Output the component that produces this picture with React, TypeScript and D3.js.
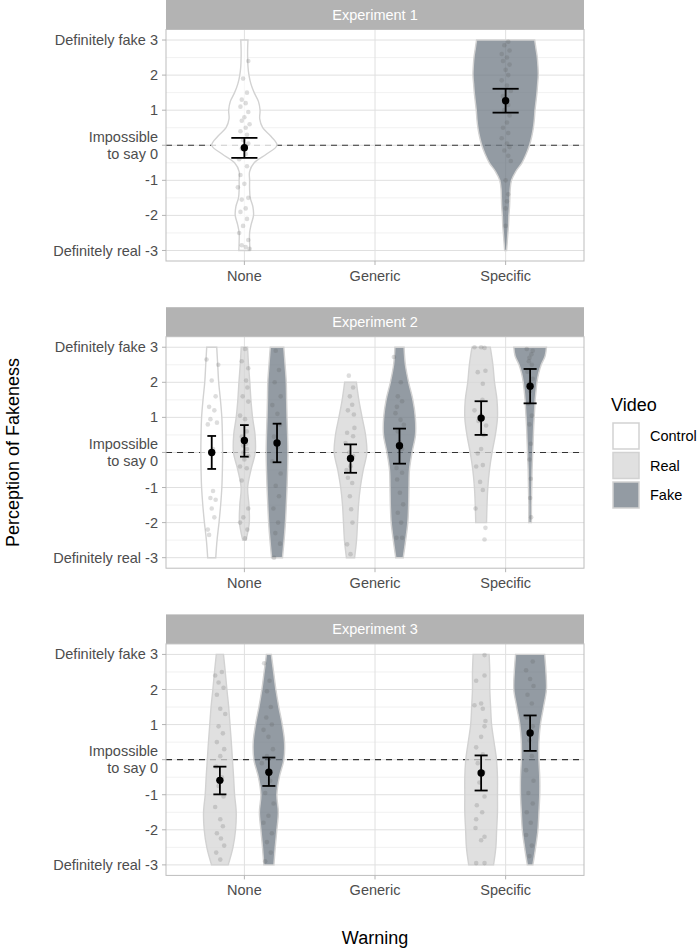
import React from "react";
import * as d3 from "d3";

const experiments = ["Experiment 1", "Experiment 2", "Experiment 3"];
const warnings = ["None", "Generic", "Specific"];
const videos = ["Control", "Real", "Fake"];
const yTicks = [-3, -2, -1, 0, 1, 2, 3];
const yTickLabels = ["Definitely real -3", "-2", "-1", "Impossible\nto say 0", "1", "2", "Definitely fake 3"];

// violin outlines: relative half-width, sampled evenly from lo to hi
const e1NoneControlDens = [0.17, 0.16, 0.16, 0.21, 0.28, 0.26, 0.18, 0.16, 0.16, 0.16, 0.3, 0.68, 1.0, 0.82, 0.56, 0.47, 0.48, 0.43, 0.3, 0.2, 0.14, 0.11, 0.1, 0.1, 0.11];
const e1SpecificFakeDens = [0.03, 0.05, 0.07, 0.09, 0.1, 0.12, 0.13, 0.14, 0.18, 0.31, 0.5, 0.63, 0.73, 0.8, 0.85, 0.88, 0.9, 0.93, 0.96, 0.98, 1.0, 0.99, 0.97, 0.93, 0.89];
const e2NoneControlDens = [0.37, 0.49, 0.67, 0.82, 0.93, 0.98, 1.0, 0.98, 0.93, 0.8, 0.64, 0.55, 0.46];
const e2NoneRealDens = [0.15, 0.45, 0.42, 0.3, 0.6, 1.0, 0.98, 0.75, 0.6, 0.5, 0.38, 0.29];
const e2NoneFakeDens = [0.5, 0.65, 0.77, 0.85, 0.92, 0.97, 1.0, 0.97, 0.92, 0.88, 0.85, 0.74, 0.62];
const e2GenericRealDens = [0.25, 0.37, 0.43, 0.49, 0.6, 0.78, 1.0, 0.92, 0.71, 0.51, 0.36];
const e2GenericFakeDens = [0.23, 0.38, 0.51, 0.56, 0.58, 0.61, 0.77, 0.98, 0.97, 0.82, 0.56, 0.36, 0.28];
const e2SpecificRealDens = [0.33, 0.36, 0.41, 0.51, 0.67, 0.87, 1.0, 0.97, 0.82, 0.72, 0.56];
const e2SpecificFakeDens = [0.08, 0.08, 0.08, 0.09, 0.1, 0.11, 0.12, 0.14, 0.16, 0.18, 0.2, 0.22, 0.25, 0.28, 0.31, 0.36, 0.42, 0.52, 0.68, 0.92, 1.0];
const e3NoneRealDens = [0.51, 0.8, 0.96, 1.0, 0.9, 0.84, 0.77, 0.7, 0.62, 0.54, 0.43, 0.33, 0.22];
const e3NoneFakeDens = [0.31, 0.39, 0.49, 0.58, 0.49, 0.64, 0.92, 0.96, 0.82, 0.61, 0.43, 0.29, 0.15];
const e3SpecificRealDens = [0.76, 0.9, 0.95, 1.0, 1.0, 1.0, 0.94, 0.79, 0.64, 0.58, 0.53, 0.53, 0.49];
const e3SpecificFakeDens = [0.17, 0.34, 0.48, 0.54, 0.59, 0.59, 0.54, 0.54, 0.63, 0.82, 1.0, 0.97, 0.89];

// individual ratings as [jitter in category steps, rating]
const e1NoneControlPts = [[0.03, 2.4], [-0.01, 1.9], [0.02, 1.5], [-0.02, 1.3], [0.01, 1.2], [-0.03, 1.1], [0.03, 0.95], [0.0, 0.8], [-0.02, 0.7], [0.04, 0.6], [0.01, 0.5], [-0.03, 0.4], [0.02, 0.3], [-0.01, 0.15], [0.03, 0.05], [-0.02, -0.1], [0.01, -0.25], [-0.04, -0.4], [0.02, -0.6], [-0.03, -0.85], [0.0, -1.1], [-0.05, -1.2], [0.03, -1.5], [-0.02, -1.55], [0.01, -1.8], [-0.03, -1.9], [0.02, -2.1], [-0.01, -2.3], [-0.04, -2.5], [0.03, -2.7], [0.01, -2.9], [0.04, -2.95], [-0.02, -2.85]];
const e1SpecificFakePts = [[0.02, 2.95], [-0.01, 2.85], [0.03, 2.7], [-0.03, 2.6], [0.01, 2.5], [-0.02, 2.4], [0.03, 2.3], [0.0, 2.15], [0.02, 2.0], [-0.03, 1.85], [0.01, 1.7], [0.04, 1.55], [-0.02, 1.4], [0.02, 1.15], [-0.01, 1.0], [0.03, 0.85], [0.01, 0.65], [-0.02, 0.5], [0.02, 0.35], [-0.03, 0.2], [0.01, 0.05], [0.03, -0.05], [-0.01, -0.15], [0.02, -0.3], [0.04, -0.45], [0.0, -1.0], [0.02, -1.4], [0.01, -1.6], [0.0, -1.8], [0.0, -2.3]];
const e2NoneControlPts = [[-0.04, 2.65], [0.05, 2.5], [0.0, 2.05], [0.03, 1.6], [-0.02, 1.3], [0.02, 1.2], [-0.01, 0.95], [0.04, 0.85], [-0.03, 0.8], [0.01, 0.1], [0.0, -0.05], [0.01, -1.1], [-0.01, -1.3], [0.03, -1.35], [0.0, -1.6], [0.02, -1.85], [-0.03, -2.2], [-0.02, -2.35]];
const e2NoneRealPts = [[0.005, 2.95], [-0.02, 2.6], [0.03, 2.4], [0.013, 2.05], [0.023, 1.85], [-0.013, 1.6], [0.03, 1.45], [-0.033, 1.05], [0.005, 0.95], [0.018, 0.6], [-0.02, 0.45], [0.013, 0.25], [-0.01, 0.2], [0.02, 0.1], [-0.008, 0.0], [0.0, -0.2], [0.03, -0.1], [-0.033, -0.4], [0.018, -0.45], [-0.02, -0.8], [0.03, -1.6], [-0.008, -1.85], [-0.033, -2.0], [0.023, -2.2], [0.005, -2.45]];
const e2NoneFakePts = [[-0.01, 2.9], [0.015, 2.35], [-0.018, 2.0], [0.028, 1.6], [-0.036, 1.35], [0.003, 1.1], [0.023, 0.8], [-0.023, 0.45], [0.003, 0.15], [-0.036, -0.25], [0.028, -0.6], [-0.01, -0.95], [0.015, -1.25], [-0.028, -1.6], [0.008, -2.0], [-0.013, -2.3], [0.023, -2.6], [-0.023, -3.0]];
const e2GenericRealPts = [[-0.013, 2.19], [0.02, 1.85], [-0.005, 1.6], [0.013, 1.36], [-0.02, 1.2], [0.026, 1.08], [0.03, 0.7], [-0.026, 0.56], [0.02, 0.46], [-0.038, 0.27], [-0.01, 0.0], [0.02, -0.1], [0.0, -0.39], [-0.03, -0.5], [-0.02, -0.72], [0.013, -0.87], [-0.005, -1.25], [0.005, -1.62], [0.015, -2.0], [-0.026, -2.62], [0.0, -2.9]];
const e2GenericFakePts = [[-0.043, 2.72], [0.01, 2.0], [-0.013, 1.6], [0.02, 1.46], [-0.02, 1.3], [-0.031, 1.12], [0.008, 0.93], [0.033, 0.79], [-0.013, 0.6], [0.0, 0.3], [0.02, 0.1], [-0.023, -0.44], [0.02, -0.58], [-0.018, -0.77], [0.003, -1.15], [0.028, -1.48], [-0.013, -1.72], [0.013, -2.0], [-0.023, -2.43], [0.02, -2.43]];
const e2SpecificRealPts = [[-0.051, 3.0], [0.0, 3.0], [0.026, 2.98], [-0.026, 2.29], [0.033, 2.33], [0.013, 1.96], [0.01, 1.5], [-0.051, 1.2], [0.0, 1.06], [-0.02, 0.9], [0.038, 0.77], [0.02, 0.5], [0.0, 0.1], [-0.026, -0.03], [0.013, -0.36], [-0.038, -0.4], [-0.008, -0.84], [0.013, -1.07], [-0.043, -1.6], [0.033, -2.15], [0.026, -2.48]];
const e2SpecificFakePts = [[-0.026, 2.95], [0.02, 2.9], [0.01, 2.8], [-0.005, 2.7], [-0.01, 2.6], [0.013, 2.5], [-0.02, 2.3], [0.02, 2.1], [0.0, 2.0], [0.0, 1.75], [-0.013, 1.4], [0.013, 1.05], [-0.005, 0.8], [0.005, 0.25], [-0.005, -0.2], [0.005, -0.75], [0.0, -1.3], [0.008, -1.85]];
const e3NoneRealPts = [[-0.036, 2.4], [0.015, 2.5], [-0.01, 2.2], [0.028, 2.05], [-0.023, 1.85], [0.003, 1.45], [0.041, 1.3], [-0.01, 0.95], [0.023, 0.75], [-0.023, 0.5], [0.033, 0.3], [0.003, 0.1], [-0.028, -0.2], [0.015, -0.5], [-0.01, -0.75], [0.028, -1.05], [-0.036, -1.35], [0.003, -1.7], [0.023, -1.9], [-0.023, -2.1], [0.008, -2.25], [0.033, -2.45], [-0.028, -2.65], [0.003, -2.85]];
const e3NoneFakePts = [[-0.036, 2.75], [0.005, 2.25], [-0.015, 1.95], [0.015, 1.5], [-0.02, 1.2], [0.023, 1.0], [-0.041, 0.85], [-0.003, 0.65], [0.031, 0.3], [-0.015, 0.1], [-0.054, -0.1], [0.01, -0.6], [-0.028, -0.95], [0.036, -1.25], [-0.003, -1.6], [-0.041, -1.8], [0.023, -2.1], [-0.015, -2.35], [0.015, -2.65], [-0.028, -2.9]];
const e3SpecificRealPts = [[0.026, 2.98], [-0.038, 2.25], [0.026, 2.4], [-0.051, 1.55], [0.013, 1.45], [0.0, 1.6], [0.033, 1.1], [0.026, 0.95], [0.0, 0.65], [-0.038, 0.35], [0.013, 0.15], [-0.026, -0.1], [0.018, -0.35], [-0.013, -0.65], [0.026, -1.05], [-0.033, -1.3], [0.008, -1.5], [-0.038, -1.7], [-0.043, -1.95], [0.026, -2.2], [0.0, -2.3], [-0.038, -2.95], [0.026, -2.95]];
const e3SpecificFakePts = [[0.02, 2.8], [-0.031, 2.55], [0.0, 2.3], [0.026, 2.1], [-0.02, 1.85], [0.013, 1.6], [-0.026, 1.2], [0.02, 0.95], [-0.005, 0.55], [0.013, 0.1], [-0.031, -0.3], [0.026, -0.6], [-0.013, -0.95], [0.02, -1.25], [-0.026, -1.5], [0.005, -1.8], [-0.031, -2.15], [0.013, -2.45], [-0.005, -2.75]];

// mean with 95% interval: [mean, lower, upper]
const e1NoneControlStat = [-0.07, -0.36, 0.21];
const e1SpecificFakeStat = [1.27, 0.93, 1.61];
const e2NoneControlStat = [0.0, -0.47, 0.47];
const e2NoneRealStat = [0.34, -0.12, 0.78];
const e2NoneFakeStat = [0.27, -0.28, 0.82];
const e2GenericRealStat = [-0.17, -0.58, 0.23];
const e2GenericFakeStat = [0.19, -0.32, 0.68];
const e2SpecificRealStat = [0.98, 0.5, 1.46];
const e2SpecificFakeStat = [1.89, 1.4, 2.38];
const e3NoneRealStat = [-0.59, -0.99, -0.2];
const e3NoneFakeStat = [-0.36, -0.75, 0.06];
const e3SpecificRealStat = [-0.38, -0.88, 0.12];
const e3SpecificFakeStat = [0.76, 0.25, 1.26];

type Group = {
  exp: string; warning: string; video: string;
  lo: number; hi: number; dens: number[]; pts: number[][]; stat: number[];
};

const groups: Group[] = [
  { exp: "Experiment 1", warning: "None", video: "Control", lo: -3, hi: 3, dens: e1NoneControlDens, pts: e1NoneControlPts, stat: e1NoneControlStat },
  { exp: "Experiment 1", warning: "Specific", video: "Fake", lo: -3, hi: 3, dens: e1SpecificFakeDens, pts: e1SpecificFakePts, stat: e1SpecificFakeStat },
  { exp: "Experiment 2", warning: "None", video: "Control", lo: -3, hi: 3, dens: e2NoneControlDens, pts: e2NoneControlPts, stat: e2NoneControlStat },
  { exp: "Experiment 2", warning: "None", video: "Real", lo: -2.5, hi: 3, dens: e2NoneRealDens, pts: e2NoneRealPts, stat: e2NoneRealStat },
  { exp: "Experiment 2", warning: "None", video: "Fake", lo: -3, hi: 3, dens: e2NoneFakeDens, pts: e2NoneFakePts, stat: e2NoneFakeStat },
  { exp: "Experiment 2", warning: "Generic", video: "Real", lo: -3, hi: 2, dens: e2GenericRealDens, pts: e2GenericRealPts, stat: e2GenericRealStat },
  { exp: "Experiment 2", warning: "Generic", video: "Fake", lo: -3, hi: 3, dens: e2GenericFakeDens, pts: e2GenericFakePts, stat: e2GenericFakeStat },
  { exp: "Experiment 2", warning: "Specific", video: "Real", lo: -2, hi: 3, dens: e2SpecificRealDens, pts: e2SpecificRealPts, stat: e2SpecificRealStat },
  { exp: "Experiment 2", warning: "Specific", video: "Fake", lo: -2, hi: 3, dens: e2SpecificFakeDens, pts: e2SpecificFakePts, stat: e2SpecificFakeStat },
  { exp: "Experiment 3", warning: "None", video: "Real", lo: -3, hi: 3, dens: e3NoneRealDens, pts: e3NoneRealPts, stat: e3NoneRealStat },
  { exp: "Experiment 3", warning: "None", video: "Fake", lo: -3, hi: 3, dens: e3NoneFakeDens, pts: e3NoneFakePts, stat: e3NoneFakeStat },
  { exp: "Experiment 3", warning: "Specific", video: "Real", lo: -3, hi: 3, dens: e3SpecificRealDens, pts: e3SpecificRealPts, stat: e3SpecificRealStat },
  { exp: "Experiment 3", warning: "Specific", video: "Fake", lo: -3, hi: 3, dens: e3SpecificFakeDens, pts: e3SpecificFakePts, stat: e3SpecificFakeStat },
];

const W = 697;
const H = 949;
const left = 166;
const right = 584;
const stripH = 29.5;
const plotH = 231.5;
const facetStep = 307.2;
const font = "'Liberation Sans', Arial, Helvetica, sans-serif";

const fill = d3.scaleOrdinal<string>().domain(videos).range(["#FFFFFF", "#D6D6D6", "#6F7A84"]);
const fillOpacity = 0.75;
const outline = "#D2D2D2";

type Sample = { v: number; w: number };

export default function App() {
  const x = d3.scalePoint<string>().domain(warnings).range([left, right]).padding(0.6);
  const step = x.step();

  return (
    <svg width={W} height={H} style={{ position: "absolute", left: 0, top: 0 }} fontFamily={font}>
      <rect width={W} height={H} fill="#fff" />
      {experiments.map((exp, ei) => {
        const top = ei * facetStep;
        const pTop = top + stripH;
        const pBot = pTop + plotH;
        const y = d3.scaleLinear().domain([-3.3, 3.3]).range([pBot, pTop]);
        const minor = d3.range(-2.5, 3, 1);
        const inPanel = groups.filter((g) => g.exp === exp);

        // dodge the videos that share a warning level
        const placed = inPanel.map((g) => {
          const same = inPanel.filter((o) => o.warning === g.warning);
          const n = same.length;
          const i = same.indexOf(g);
          const cx = (x(g.warning) as number) + (i - (n - 1) / 2) * (0.75 / n) * step;
          return { g, n, cx, hw: (0.25 / n) * step, cap: (0.1 / n) * step };
        });

        return (
          <g key={exp}>
            <rect x={left} y={top} width={right - left} height={stripH} fill="#B3B3B3" />
            <text x={(left + right) / 2} y={top + stripH / 2} dy="0.35em" textAnchor="middle" fill="#fff" fontSize={14.5}>
              {exp}
            </text>
            {minor.map((v) => (
              <line key={"mi" + v} x1={left} x2={right} y1={y(v)} y2={y(v)} stroke="#EBEBEB" strokeWidth={0.7} />
            ))}
            {yTicks.map((v) => (
              <line key={"ma" + v} x1={left} x2={right} y1={y(v)} y2={y(v)} stroke="#E0E0E0" strokeWidth={1} />
            ))}
            {warnings.map((w) => (
              <line key={"vx" + w} x1={x(w)} x2={x(w)} y1={pTop} y2={pBot} stroke="#E0E0E0" strokeWidth={1} />
            ))}
            <line x1={left} x2={right} y1={y(0)} y2={y(0)} stroke="#333" strokeWidth={1.1} strokeDasharray="6,5" />

            {placed.map(({ g, cx, hw }) => {
              const samples: Sample[] = g.dens.map((w, k) => ({ v: g.lo + ((g.hi - g.lo) * k) / (g.dens.length - 1), w }));
              const area = d3
                .area<Sample>()
                .y((d) => y(d.v))
                .x0((d) => cx - d.w * hw)
                .x1((d) => cx + d.w * hw)
                .curve(d3.curveCatmullRom);
              return (
                <path
                  key={"v" + g.warning + g.video}
                  d={area(samples) ?? ""}
                  fill={fill(g.video)}
                  fillOpacity={fillOpacity}
                  stroke={outline}
                  strokeWidth={1.4}
                />
              );
            })}

            {placed.map(({ g, cx }) => (
              <g key={"p" + g.warning + g.video}>
                {g.pts.map(([dx, v], k) => (
                  <circle key={k} cx={cx + dx * step} cy={y(v)} r={2.3} fill="#555" fillOpacity={0.2} />
                ))}
              </g>
            ))}

            {placed.map(({ g, cx, cap }) => {
              const [m, lo, hi] = g.stat;
              return (
                <g key={"e" + g.warning + g.video} stroke="#000" strokeWidth={1.8}>
                  <line x1={cx} x2={cx} y1={y(lo)} y2={y(hi)} />
                  <line x1={cx - cap} x2={cx + cap} y1={y(lo)} y2={y(lo)} />
                  <line x1={cx - cap} x2={cx + cap} y1={y(hi)} y2={y(hi)} />
                  <circle cx={cx} cy={y(m)} r={3.7} fill="#000" stroke="none" />
                </g>
              );
            })}

            <rect x={left} y={pTop} width={right - left} height={plotH} fill="none" stroke="#BDBDBD" strokeWidth={1} />

            {yTicks.map((v, k) => {
              const lines = yTickLabels[k].split("\n");
              return (
                <g key={"yt" + v}>
                  <line x1={left - 4} x2={left} y1={y(v)} y2={y(v)} stroke="#B3B3B3" />
                  <text x={left - 8} y={y(v)} textAnchor="end" fill="#4D4D4D" fontSize={14.5}>
                    {lines.map((t, j) => (
                      <tspan key={j} x={left - 8} dy={j === 0 ? `${0.35 - (lines.length - 1) * 0.6}em` : "1.2em"}>
                        {t}
                      </tspan>
                    ))}
                  </text>
                </g>
              );
            })}
            {warnings.map((w) => (
              <g key={"xt" + w}>
                <line x1={x(w)} x2={x(w)} y1={pBot} y2={pBot + 4} stroke="#B3B3B3" />
                <text x={x(w)} y={pBot + 20} textAnchor="middle" fill="#4D4D4D" fontSize={14.5}>
                  {w}
                </text>
              </g>
            ))}
          </g>
        );
      })}

      <text x={(left + right) / 2} y={944} textAnchor="middle" fontSize={18} fill="#000">
        Warning
      </text>
      <text
        transform={`translate(19, ${(stripH + 2 * facetStep + stripH + plotH) / 2}) rotate(-90)`}
        textAnchor="middle"
        fontSize={18}
        fill="#000"
      >
        Perception of Fakeness
      </text>

      <text x={611} y={411} fontSize={18} fill="#000">
        Video
      </text>
      {videos.map((v, i) => (
        <g key={"lg" + v}>
          <rect x={613} y={423 + i * 29.5} width={26} height={26} fill={fill(v)} fillOpacity={fillOpacity} stroke={outline} strokeWidth={1.5} />
          <text x={650} y={423 + i * 29.5 + 13} dy="0.35em" fontSize={14.5} fill="#000">
            {v}
          </text>
        </g>
      ))}
    </svg>
  );
}
